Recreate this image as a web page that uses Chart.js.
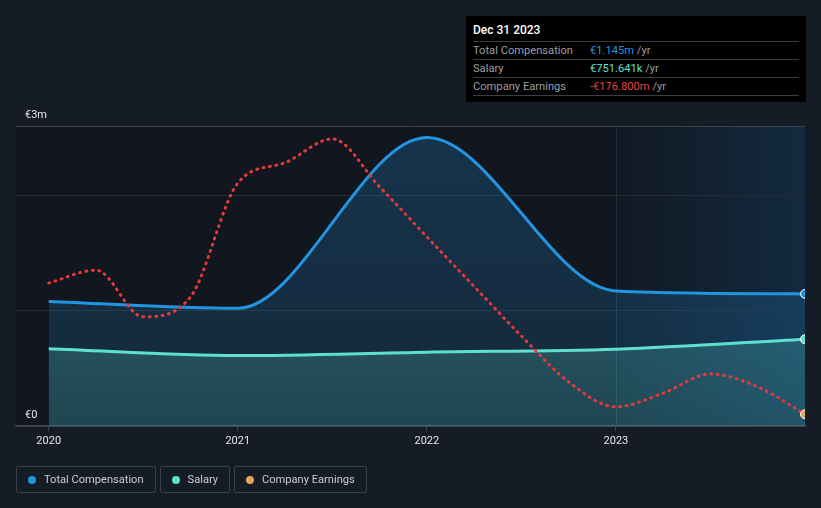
<!DOCTYPE html>
<html>
<head>
<meta charset="utf-8">
<script src="https://cdn.jsdelivr.net/npm/chart.js@4/dist/chart.umd.min.js"></script>
<style>
  html, body { margin: 0; padding: 0; background: #161c26; }
  body { width: 821px; height: 508px; position: relative; overflow: hidden; font-family: Roboto, "Noto Sans", sans-serif; }
  #chart { position: absolute; left: 0; top: 0; }
  .tip { position: absolute; left: 466px; top: 16px; width: 340px; height: 86px; background: #000; box-sizing: border-box; padding: 0 7px; }
  .tip .title { color: #fff; font-size: 12px; font-weight: 500; height: 25px; line-height: 29px; border-bottom: 1px solid #3a3d43; }
  .tip .row { height: 17px; line-height: 17px; font-size: 11.15px; border-bottom: 1px solid #3a3d43; color: #9a9ea5; position: relative; }
  .tip .row .val { position: absolute; left: 117px; top: 0; }
  .legend { position: absolute; left: 16px; top: 466px; display: flex; gap: 4px; }
  .legend .item { height: 25px; border: 1px solid #3a404b; border-radius: 2px; display: flex; align-items: center; padding: 0 11px 0 11px; color: #c9cdd3; font-size: 11.1px; }
  .legend .dot { width: 8px; height: 8px; border-radius: 50%; margin-right: 8px; }
</style>
</head>
<body>
<canvas id="chart" width="821" height="508"></canvas>

<div class="tip">
  <div class="title">Dec 31 2023</div>
  <div class="row">Total Compensation<span class="val"><span style="color:#2394df">€1.145m</span> /yr</span></div>
  <div class="row">Salary<span class="val"><span style="color:#5fe0cf">€751.641k</span> /yr</span></div>
  <div class="row">Company Earnings<span class="val"><span style="color:#e8413f">-€176.800m</span> /yr</span></div>
</div>

<div class="legend" id="legend"></div>

<script>
// Chart data (values in € millions, dates as decimal years)
const compDates = [2020.0, 2021.0, 2022.0, 2023.0, 2024.0];
const compValues = [1.08, 1.02, 2.50, 1.17, 1.145];
const salaryValues = [0.67, 0.61, 0.64, 0.665, 0.7516];

const earningsDates = [2020.0, 2020.25, 2020.5, 2020.75, 2021.0, 2021.25, 2021.5, 2021.75,
                       2022.0, 2022.25, 2022.5, 2022.75, 2023.0, 2023.25, 2023.5, 2023.75, 2024.0];
const earningsValues = [138, 169, 57, 105, 378, 427, 484, 369,
                        249, 130, 11, -99, -159, -126, -80, -111, -176.8];

const tickYears = [2020, 2021, 2022, 2023];
const yTicks = [0, 1, 2, 2.6];
const yTickLabels = { 0: '€0', 2.6: '€3m' };
const highlightFrom = 2023;

const seriesNames = ['Total Compensation', 'Salary', 'Company Earnings'];
const seriesColors = ['#2394df', '#5fe0cf', '#e3a857'];

const toPoints = (xs, ys) => xs.map((x, i) => ({ x: x, y: ys[i] }));
const lastOnly = (r) => (ctx) => ctx.dataIndex === ctx.dataset.data.length - 1 ? r : 0;

// Legend boxes
document.getElementById('legend').innerHTML = seriesNames.map((n, i) => `
  <div class="item"><span class="dot" style="background:${seriesColors[i]}"></span>${n}</div>
`).join('');

// Background + last-year highlight
const backdrop = {
  id: 'backdrop',
  beforeDraw(chart) {
    const { ctx, chartArea: a, scales: { x } } = chart;
    ctx.save();
    ctx.fillStyle = '#12161e';
    ctx.fillRect(a.left, a.top, a.right - a.left, a.bottom - a.top);
    const hx = x.getPixelForValue(highlightFrom);
    const g = ctx.createLinearGradient(hx, 0, a.right, 0);
    g.addColorStop(0, 'rgba(20,58,92,0.08)');
    g.addColorStop(1, 'rgba(20,58,92,0.55)');
    ctx.fillStyle = g;
    ctx.fillRect(hx, a.top, a.right - hx, a.bottom - a.top);
    ctx.strokeStyle = '#1a3347';
    ctx.lineWidth = 1;
    ctx.beginPath();
    ctx.moveTo(Math.round(hx) + 0.5, a.top);
    ctx.lineTo(Math.round(hx) + 0.5, a.bottom);
    ctx.stroke();
    ctx.restore();
  }
};

function vGradient(ctx, top, bottom) {
  const a = ctx.chart.chartArea;
  if (!a) return top;
  const g = ctx.chart.ctx.createLinearGradient(0, a.top, 0, a.bottom);
  g.addColorStop(0, top);
  g.addColorStop(1, bottom);
  return g;
}

new Chart(document.getElementById('chart').getContext('2d'), {
  type: 'line',
  data: {
    datasets: [
      {
        label: 'Company Earnings',
        data: toPoints(earningsDates, earningsValues),
        yAxisID: 'y2',
        borderColor: '#e0393e',
        borderWidth: 3,
        borderDash: [1, 5.5],
        borderCapStyle: 'round',
        fill: false,
        cubicInterpolationMode: 'monotone',
        pointRadius: lastOnly(4.5),
        pointBackgroundColor: '#e3a857',
        pointBorderColor: '#ffffff',
        pointBorderWidth: 1,
        order: 0
      },
      {
        label: 'Salary',
        data: toPoints(compDates, salaryValues),
        borderColor: '#5fe0cf',
        borderWidth: 3,
        fill: 'origin',
        backgroundColor: ctx => vGradient(ctx, 'rgba(95,224,207,0.32)', 'rgba(95,224,207,0.16)'),
        cubicInterpolationMode: 'monotone',
        pointRadius: lastOnly(4.5),
        pointBackgroundColor: '#5fe0cf',
        pointBorderColor: '#ffffff',
        pointBorderWidth: 1,
        order: 1
      },
      {
        label: 'Total Compensation',
        data: toPoints(compDates, compValues),
        borderColor: '#2394df',
        borderWidth: 3,
        fill: 'origin',
        backgroundColor: ctx => vGradient(ctx, 'rgba(35,148,223,0.24)', 'rgba(35,148,223,0.14)'),
        cubicInterpolationMode: 'monotone',
        pointRadius: lastOnly(4.5),
        pointBackgroundColor: '#2394df',
        pointBorderColor: '#ffffff',
        pointBorderWidth: 1,
        order: 2
      }
    ]
  },
  options: {
    responsive: false,
    animation: false,
    layout: { padding: { left: 16, right: 16, top: 126, bottom: 0 } },
    plugins: { legend: { display: false }, tooltip: { enabled: false } },
    scales: {
      x: {
        type: 'linear',
        min: 2019.827,
        max: 2024.0,
        afterBuildTicks: s => { s.ticks = tickYears.map(v => ({ value: v })); },
        afterFit: s => { s.height = 82; },
        grid: { drawOnChartArea: false, drawTicks: true, tickLength: 5, color: '#40464f' },
        border: { display: true, color: '#3f4650', width: 1.5 },
        ticks: { color: '#e6e6e6', font: { family: 'Roboto', size: 11 }, padding: 4, maxRotation: 0,
                 callback: v => String(v) }
      },
      y: {
        min: 0,
        max: 2.6,
        afterBuildTicks: s => { s.ticks = yTicks.map(v => ({ value: v })); },
        afterFit: s => { s.width = 0; },
        grid: {
          drawTicks: false,
          color: c => (c.tick && (c.tick.value === 0 || c.tick.value === 2.6)) ? '#3c424c' : '#252b34'
        },
        border: { display: false },
        ticks: {
          mirror: true, padding: 9, labelOffset: -11,
          color: '#e6e6e6', font: { family: 'Roboto', size: 11 },
          callback: v => yTickLabels[v] || ''
        }
      },
      y2: {
        display: false,
        min: -205,
        max: 515
      }
    }
  },
  plugins: [backdrop]
});
</script>
</body>
</html>
